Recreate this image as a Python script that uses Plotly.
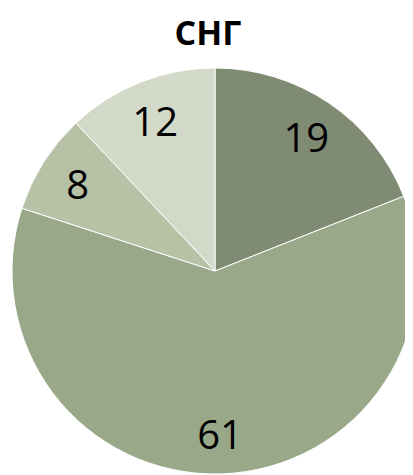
import plotly.graph_objects as go

title_text = "СНГ"
categories = ["A", "B", "C", "D"]
values = [19, 61, 8, 12]
colors = ["#7f8b72", "#9aa88a", "#b6c1a6", "#d3d9c8"]

W, H = 413, 475
dom_x = [4 / W, 410 / W]
dom_y = [9 / H, 415 / H]

fig = go.Figure()
fig.add_trace(go.Pie(
    labels=categories, values=values, sort=False, direction="clockwise", rotation=0,
    marker=dict(colors=colors, line=dict(color="white", width=1)),
    textinfo="none", hoverinfo="skip", showlegend=False,
    domain=dict(x=dom_x, y=dom_y),
))
# transparent ring carrying the value labels (places labels at ~0.8 radius)
fig.add_trace(go.Pie(
    labels=categories, values=values, sort=False, direction="clockwise", rotation=0,
    hole=0.6,
    marker=dict(colors=["rgba(0,0,0,0)"] * len(values), line=dict(width=0)),
    textinfo="value", textposition="inside", insidetextorientation="horizontal",
    insidetextfont=dict(family="Open Sans", size=40, color="black"),
    hoverinfo="skip", showlegend=False,
    domain=dict(x=dom_x, y=dom_y),
))
fig.update_layout(
    width=W, height=H,
    margin=dict(l=0, r=0, t=0, b=0),
    paper_bgcolor="white", plot_bgcolor="white",
    title=dict(text="<b>" + title_text + "</b>", x=200 / W, xanchor="center",
               y=1 - 25 / H, yanchor="middle", yref="container",
               font=dict(family="Open Sans", size=34, color="black")),
)
fig.write_html("out.html")
